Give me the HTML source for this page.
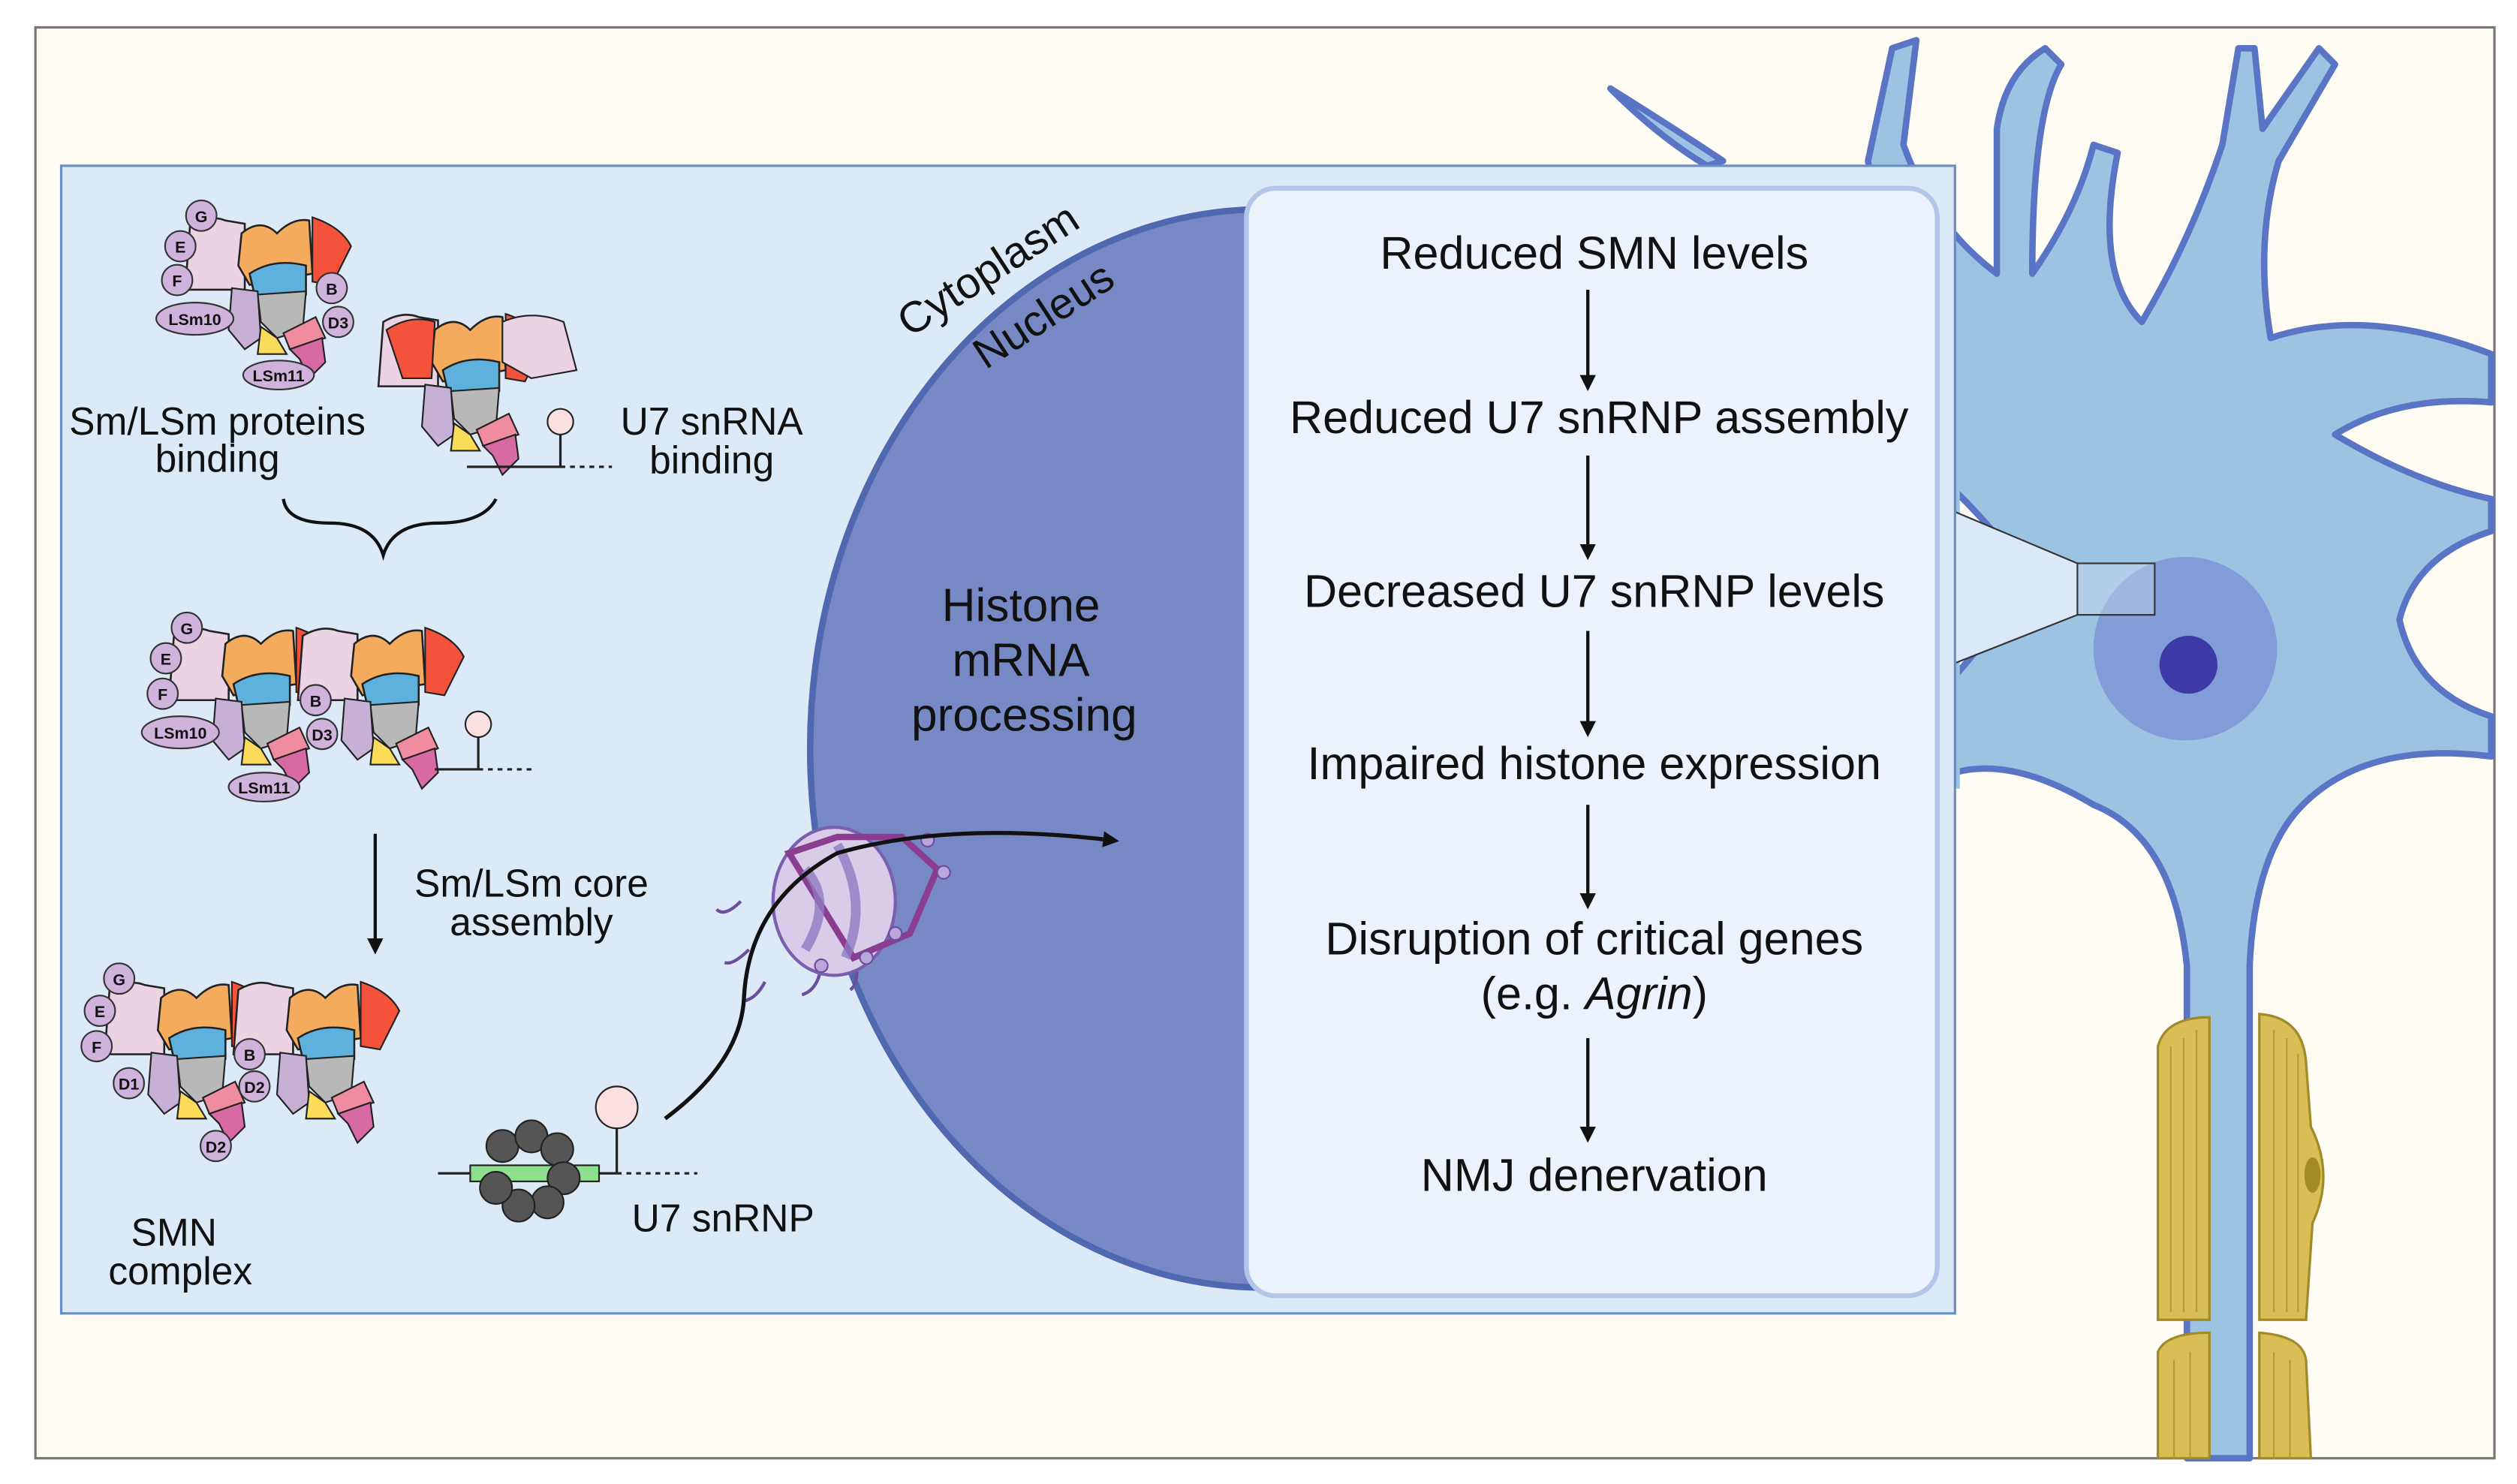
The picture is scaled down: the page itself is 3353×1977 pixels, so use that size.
<!DOCTYPE html>
<html><head><meta charset="utf-8"><style>
html,body{margin:0;padding:0;background:#fff}
svg{display:block}
text{font-family:"Liberation Sans",sans-serif;fill:#111}
</style></head><body>
<svg width="3353" height="1977" viewBox="0 0 1563 922" preserveAspectRatio="none" xmlns="http://www.w3.org/2000/svg">
<defs>
<marker id="ar" markerWidth="10" markerHeight="10" refX="5" refY="5" orient="auto" markerUnits="userSpaceOnUse"><path d="M0,0 L10,5 L0,10 z" fill="#111"/></marker>
<g id="core">
 <path d="M-32,-25 Q-20,-32 -10,-28 L2,-26 L2,15 L-35,15 Z" fill="#ecd3e4" stroke="#222" stroke-width="1.2"/>
 <path d="M0,-20 Q12,-30 22,-20 Q32,-30 42,-28 L44,5 L5,12 L-2,0 Z" fill="#f5ab5e" stroke="#222" stroke-width="1.2"/>
 <path d="M44,-30 Q62,-24 68,-12 L56,12 L44,10 Z" fill="#f4523a" stroke="#222" stroke-width="1"/>
 <path d="M5,5 Q20,-5 40,0 L40,18 Q22,26 8,18 Z" fill="#5eb1dd" stroke="#222" stroke-width="1.2"/>
 <path d="M10,18 L40,16 L38,40 L22,45 L12,35 Z" fill="#b8b8b8" stroke="#222" stroke-width="1"/>
 <path d="M-6,14 L10,16 L12,45 L2,52 L-8,40 Z" fill="#c7b0d6" stroke="#222" stroke-width="1"/>
 <path d="M12,38 L22,45 L28,55 L10,55 Z" fill="#fbdc5a" stroke="#222" stroke-width="1"/>
 <path d="M26,42 L46,32 L52,45 L30,52 Z" fill="#f08ca0" stroke="#222" stroke-width="1"/>
 <path d="M30,52 L50,45 L52,60 L42,70 L36,58 Z" fill="#d76aa3" stroke="#222" stroke-width="1"/>
</g>
<g id="ring"><circle r="9.5" fill="#cfb3dc" stroke="#333" stroke-width="1"/></g>
</defs>

<rect x="0" y="0" width="1563" height="922" fill="#fff"/>
<rect x="22" y="17" width="1527" height="889" fill="#fffcf3" stroke="#777" stroke-width="1.5"/>

<!-- Neuron -->
<g fill="#9dc3e2" stroke="#5a74c6" stroke-width="4" stroke-linejoin="round">
 <path d="M1214,200 Q1170,160 1160,100 L1175,30 L1190,25 L1182,90 Q1200,140 1240,170 L1240,80 Q1245,45 1270,30 L1280,40 Q1262,70 1262,170 Q1290,130 1300,90 L1315,95 Q1300,170 1330,200 Q1360,150 1380,90 L1390,30 L1400,30 L1405,80 L1440,30 L1450,40 L1415,100 Q1400,150 1410,210 Q1470,190 1547,220 L1547,250 Q1490,245 1450,270 Q1500,300 1547,310 L1547,330 Q1500,345 1490,385 Q1500,430 1547,445 L1547,470 Q1470,460 1430,500 Q1400,530 1397,600 L1397,906 L1358,906 L1358,600 Q1350,520 1300,500 Q1250,470 1214,480 L1214,420 Q1240,390 1260,360 Q1240,330 1214,305 Z"/>
 <path d="M1000,55 Q1040,80 1070,100 L1060,103 Q1030,85 1000,55 Z"/>
</g>
<path d="M1214,190 L1214,490" stroke="#9dc3e2" stroke-width="6"/>
<!-- myelin -->
<g fill="#d9bd55" stroke="#a08a2a" stroke-width="1.5">
 <path d="M1340,650 Q1345,632 1372,632 L1372,820 L1340,820 Z"/>
 <path d="M1403,630 Q1430,632 1432,660 L1435,700 Q1450,730 1436,760 L1432,820 L1403,820 Z"/>
 <path d="M1340,840 Q1345,828 1372,828 L1372,906 L1340,906 Z"/>
 <path d="M1403,828 Q1430,830 1432,845 L1435,906 L1403,906 Z"/>
</g>
<g stroke="#b39b35" stroke-width="1" fill="none">
 <path d="M1348,650 L1348,815 M1356,645 L1356,815 M1364,640 L1364,815"/>
 <path d="M1412,640 L1412,815 M1420,645 L1420,815 M1427,655 L1427,815"/>
 <path d="M1350,845 L1350,906 M1360,840 L1360,906 M1412,840 L1412,906 M1422,845 L1422,906"/>
</g>
<ellipse cx="1436" cy="730" rx="5" ry="11" fill="#a48a22"/>
<circle cx="1357" cy="403" r="57" fill="#7d95d3" opacity="0.85"/>
<circle cx="1359" cy="413" r="18" fill="#3d3aa8"/>
<rect x="1290" y="350" width="48" height="32" fill="#cfe0f3" fill-opacity="0.4" stroke="#333" stroke-width="1"/>
<path d="M1214,318 L1290,350 L1290,382 L1214,412 Z" fill="#dbe8f7" stroke="#333" stroke-width="1"/>

<!-- blue panel -->
<rect x="38" y="103" width="1176" height="713" fill="#dceaf8" stroke="#6a8fc8" stroke-width="1.5"/>

<!-- nucleus -->
<path d="M785,130 A282,335 0 0 0 785,800 Z" fill="#7689c5" stroke="#5068b0" stroke-width="4"/>
<text x="0" y="0" font-size="27" transform="translate(565,210) rotate(-33)">Cytoplasm</text>
<text x="0" y="0" font-size="27" transform="translate(612,230) rotate(-33)">Nucleus</text>
<text x="634" y="386" font-size="29" text-anchor="middle">Histone</text>
<text x="634" y="420" font-size="29" text-anchor="middle">mRNA</text>
<text x="636" y="454" font-size="29" text-anchor="middle">processing</text>

<!-- white box -->
<rect x="774" y="117" width="429" height="688" rx="18" fill="#ebf2fb" stroke="#b3c6e8" stroke-width="3"/>
<g font-size="28.5" text-anchor="middle">
<text x="990" y="167">Reduced SMN levels</text>
<text x="993" y="269">Reduced U7 snRNP assembly</text>
<text x="990" y="377">Decreased U7 snRNP levels</text>
<text x="990" y="484">Impaired histone expression</text>
<text x="990" y="593">Disruption of critical genes</text>
<text x="990" y="627">(e.g. <tspan font-style="italic">Agrin</tspan>)</text>
<text x="990" y="740">NMJ denervation</text>
</g>
<g stroke="#111" stroke-width="2" marker-end="url(#ar)">
<line x1="986" y1="180" x2="986" y2="238"/>
<line x1="986" y1="283" x2="986" y2="343"/>
<line x1="986" y1="392" x2="986" y2="453"/>
<line x1="986" y1="500" x2="986" y2="560"/>
<line x1="986" y1="645" x2="986" y2="705"/>
</g>

<!-- molecule 1 -->
<use href="#core" x="150" y="165"/>
<use href="#ring" x="125" y="134"/><use href="#ring" x="112" y="153"/><use href="#ring" x="110" y="174"/><use href="#ring" x="206" y="179"/><use href="#ring" x="210" y="200"/>
<ellipse cx="121" cy="198" rx="24" ry="10" fill="#cfb3dc" stroke="#333"/>
<ellipse cx="173" cy="233" rx="22" ry="9" fill="#cfb3dc" stroke="#333"/>
<g font-size="10" font-weight="bold" text-anchor="middle">
<text x="125" y="138">G</text><text x="112" y="157">E</text><text x="110" y="178">F</text><text x="206" y="183">B</text><text x="210" y="204">D3</text>
<text x="121" y="202">LSm10</text><text x="173" y="237">LSm11</text></g>
<!-- molecule 2 -->
<use href="#core" x="270" y="225"/>
<path d="M240,205 Q255,195 270,200 L268,235 L250,235 Z" fill="#f4523a" stroke="#222"/>
<path d="M312,200 Q330,192 350,200 L358,230 L330,235 L312,225 Z" fill="#ecd3e4" stroke="#222"/>
<line x1="290" y1="290" x2="348" y2="290" stroke="#222" stroke-width="1.5"/>
<line x1="348" y1="290" x2="380" y2="290" stroke="#222" stroke-width="1.5" stroke-dasharray="3,3"/>
<line x1="348" y1="290" x2="348" y2="270" stroke="#222" stroke-width="1.5"/>
<circle cx="348" cy="262" r="8" fill="#fae0e0" stroke="#222"/>
<text x="135" y="270" font-size="24" text-anchor="middle">Sm/LSm proteins</text>
<text x="135" y="293" font-size="24" text-anchor="middle">binding</text>
<text x="442" y="270" font-size="24" text-anchor="middle">U7 snRNA</text>
<text x="442" y="294" font-size="24" text-anchor="middle">binding</text>
<path d="M176,310 Q178,325 205,325 Q232,325 238,345 Q244,325 272,325 Q300,325 308,310" fill="none" stroke="#111" stroke-width="2"/>

<!-- molecule 3 -->
<use href="#core" x="140" y="420"/>
<use href="#core" x="220" y="420"/>
<use href="#ring" x="116" y="390"/><use href="#ring" x="103" y="409"/><use href="#ring" x="101" y="431"/><use href="#ring" x="196" y="435"/><use href="#ring" x="200" y="456"/>
<ellipse cx="112" cy="455" rx="24" ry="10" fill="#cfb3dc" stroke="#333"/>
<ellipse cx="164" cy="489" rx="22" ry="9" fill="#cfb3dc" stroke="#333"/>
<line x1="270" y1="478" x2="297" y2="478" stroke="#222" stroke-width="1.5"/>
<line x1="297" y1="478" x2="330" y2="478" stroke="#222" stroke-width="1.5" stroke-dasharray="3,3"/>
<line x1="297" y1="478" x2="297" y2="458" stroke="#222" stroke-width="1.5"/>
<circle cx="297" cy="450" r="8" fill="#fae0e0" stroke="#222"/>
<g font-size="10" font-weight="bold" text-anchor="middle">
<text x="116" y="394">G</text><text x="103" y="413">E</text><text x="101" y="435">F</text><text x="196" y="439">B</text><text x="200" y="460">D3</text>
<text x="112" y="459">LSm10</text><text x="164" y="493">LSm11</text></g>
<line x1="233" y1="518" x2="233" y2="588" stroke="#111" stroke-width="2" marker-end="url(#ar)"/>
<text x="330" y="557" font-size="24" text-anchor="middle">Sm/LSm core</text>
<text x="330" y="581" font-size="24" text-anchor="middle">assembly</text>

<!-- molecule 4 -->
<use href="#core" x="100" y="640"/>
<use href="#core" x="180" y="640"/>
<use href="#ring" x="74" y="608"/><use href="#ring" x="62" y="628"/><use href="#ring" x="60" y="650"/><use href="#ring" x="80" y="673"/><use href="#ring" x="155" y="655"/><use href="#ring" x="158" y="675"/><use href="#ring" x="134" y="712"/>
<g font-size="10" font-weight="bold" text-anchor="middle">
<text x="74" y="612">G</text><text x="62" y="632">E</text><text x="60" y="654">F</text><text x="80" y="677">D1</text><text x="155" y="659">B</text><text x="158" y="679">D2</text><text x="134" y="716">D2</text></g>
<text x="108" y="774" font-size="24" text-anchor="middle">SMN</text>
<text x="112" y="798" font-size="24" text-anchor="middle">complex</text>

<!-- U7 snRNP -->
<line x1="272" y1="729" x2="383" y2="729" stroke="#222" stroke-width="1.5"/>
<line x1="383" y1="729" x2="433" y2="729" stroke="#222" stroke-width="1.5" stroke-dasharray="3,3"/>
<rect x="292" y="724" width="80" height="10" fill="#8ee08e" stroke="#222"/>
<g fill="#555" stroke="#222">
<circle cx="312" cy="712" r="10"/><circle cx="330" cy="706" r="10"/><circle cx="346" cy="714" r="10"/><circle cx="350" cy="732" r="10"/><circle cx="340" cy="747" r="10"/><circle cx="322" cy="749" r="10"/><circle cx="308" cy="738" r="10"/></g>
<line x1="383" y1="729" x2="383" y2="700" stroke="#222" stroke-width="1.5"/>
<circle cx="383" cy="688" r="13" fill="#fae0e0" stroke="#222"/>
<text x="449" y="765" font-size="24" text-anchor="middle">U7 snRNP</text>

<!-- nuclear pore -->
<g stroke="#6b4f9a" stroke-width="2" fill="none">
<path d="M460,560 Q450,570 445,565 M465,590 Q455,600 450,598 M475,610 Q470,620 462,622 M510,600 Q508,615 498,618 M530,590 Q535,610 528,615"/></g>
<ellipse cx="518" cy="560" rx="38" ry="46" fill="#d8cce9" stroke="#7a5fae" stroke-width="2"/>
<path d="M490,530 L520,520 L560,520 L582,540 L565,580 L530,595 Z" fill="none" stroke="#8b3d8f" stroke-width="4"/>
<path d="M500,540 Q518,560 500,590 M520,525 Q540,560 525,595" fill="none" stroke="#8e7cc0" stroke-width="6" opacity="0.8"/>
<g fill="#b9a6dd" stroke="#6b4f9a"><circle cx="576" cy="522" r="4"/><circle cx="586" cy="542" r="4"/><circle cx="556" cy="580" r="4"/><circle cx="538" cy="595" r="4"/><circle cx="510" cy="600" r="4"/></g>
<path d="M413,695 Q460,660 462,620 Q465,560 520,530 Q590,510 690,522" fill="none" stroke="#111" stroke-width="2.5" marker-end="url(#ar)"/>
</svg>
</body></html>
